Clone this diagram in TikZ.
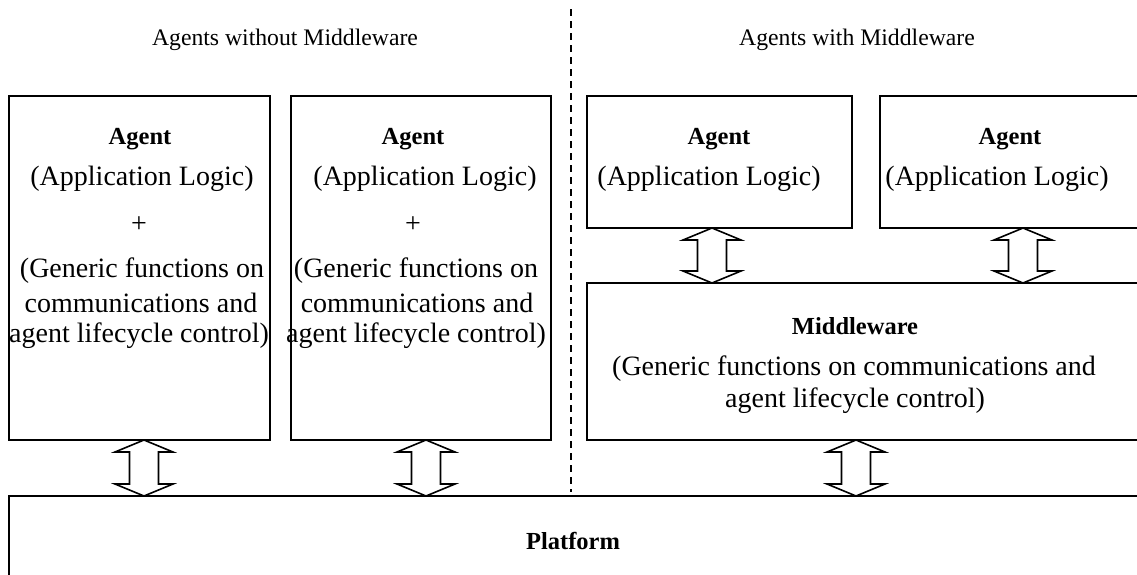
\documentclass[tikz,border=0pt]{standalone}
\usepackage{fontspec}
\setmainfont{Liberation Serif}
\usetikzlibrary{calc}

% hollow double-headed block arrow between two anchors, at a given x (pt)
\newcommand\updown[3]{%
  \draw[blockarrow] let \p1=(#2), \p2=(#3) in
    (#1pt,\y1) -- (#1pt+29pt,\y1-12pt) -- (#1pt+14.5pt,\y1-12pt)
    -- (#1pt+14.5pt,\y2+12pt) -- (#1pt+29pt,\y2+12pt) -- (#1pt,\y2)
    -- (#1pt-29pt,\y2+12pt) -- (#1pt-14.5pt,\y2+12pt)
    -- (#1pt-14.5pt,\y1-12pt) -- (#1pt-29pt,\y1-12pt) -- cycle;}

\begin{document}
\begin{tikzpicture}[x=1pt,y=-1pt,
  box/.style={draw,line width=1.6pt,anchor=north west,inner sep=0pt,outer sep=0pt},
  ttl/.style={font=\fontsize{23.7}{28}\selectfont,inner sep=0pt},
  lbl/.style={font=\fontsize{28}{33}\selectfont,inner sep=0pt},
  hdr/.style={font=\fontsize{24.5}{29}\selectfont\bfseries,inner sep=0pt},
  divider/.style={line width=1.8pt,dash pattern=on 7pt off 5pt},
  blockarrow/.style={draw,line width=1.6pt,fill=white,line join=miter}]
\clip (0,0) rectangle (1137,574);

% section titles and divider
\node[ttl] (tleft) at (285,40) {Agents without Middleware};
\node[ttl] (tright) at (857,40) {Agents with Middleware};
\coordinate (divtop) at (571,9);
\coordinate (divbot) at (571,492);
\draw[divider] (divtop) -- (divbot);

% boxes
\node[box,minimum width=261pt,minimum height=344pt] (agentA) at (9,96) {};
\node[box,minimum width=260pt,minimum height=344pt] (agentB) at (291,96) {};
\node[box,minimum width=265pt,minimum height=132pt] (agentC) at (587,96) {};
\node[box,minimum width=320pt,minimum height=132pt] (agentD) at (880,96) {};
\node[box,minimum width=620pt,minimum height=157pt] (mw) at (587,283) {};
\node[box,minimum width=1200pt,minimum height=140pt] (platform) at (9,496) {};

% agent without middleware, left
\node[hdr] (aA1) at (140,139) {Agent};
\node[lbl] (aA2) at (142,179) {(Application Logic)};
\node[lbl] (aA3) at (139,225) {+};
\node[lbl] (aA4) at (142,271) {(Generic functions on};
\node[lbl] (aA5) at (141,303) {communications and};
\node[lbl] (aA6) at (139,336) {agent lifecycle control)};

% agent without middleware, right
\node[hdr] (aB1) at (413,139) {Agent};
\node[lbl] (aB2) at (425,179) {(Application Logic)};
\node[lbl] (aB3) at (413,225) {+};
\node[lbl] (aB4) at (416,271) {(Generic functions on};
\node[lbl] (aB5) at (417,303) {communications and};
\node[lbl] (aB6) at (416,336) {agent lifecycle control)};

% agents with middleware
\node[hdr] (aC1) at (719,139) {Agent};
\node[lbl] (aC2) at (709,179) {(Application Logic)};
\node[hdr] (aD1) at (1010,139) {Agent};
\node[lbl] (aD2) at (997,179) {(Application Logic)};

% middleware
\node[hdr] (mw1) at (855,326) {Middleware};
\node[lbl] (mw2) at (854,369) {(Generic functions on communications and};
\node[lbl] (mw3) at (855,401) {agent lifecycle control)};

% platform
\node[hdr] (pf) at (573,541) {Platform};

% connectors
\updown{144}{agentA.south}{platform.north}
\updown{426}{agentB.south}{platform.north}
\updown{712}{agentC.south}{mw.north}
\updown{1023}{agentD.south}{mw.north}
\updown{856}{mw.south}{platform.north}
\end{tikzpicture}
\end{document}
